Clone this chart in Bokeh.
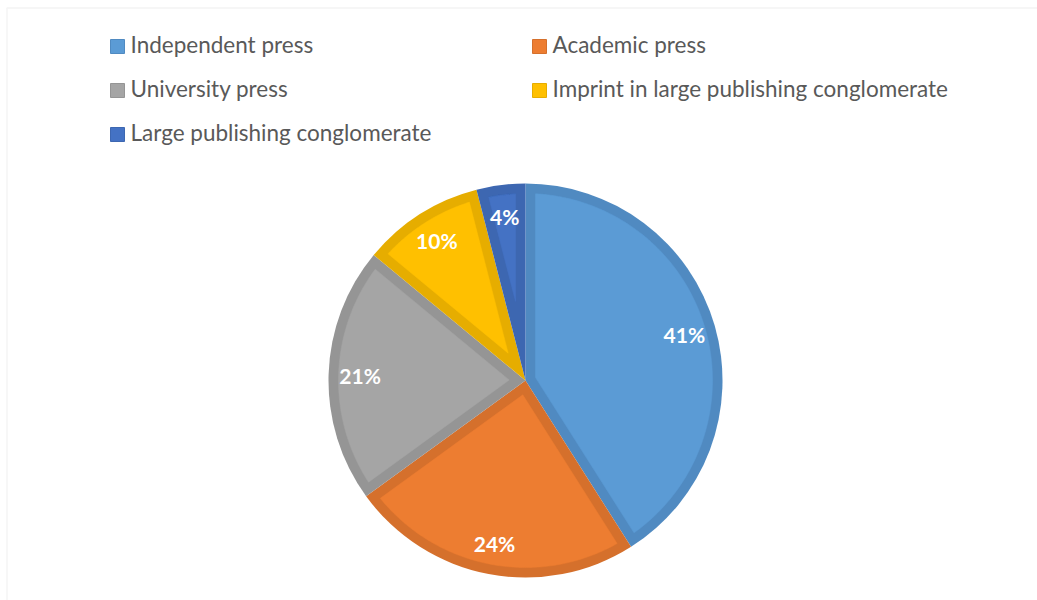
import math
import numpy as np
from bokeh.plotting import figure
from bokeh.models import Range1d, ColumnDataSource, BoxAnnotation
from bokeh.core.properties import value
from bokeh.embed import file_html
from bokeh.resources import INLINE

# ---- data ----
categories = ["Independent press", "Academic press", "University press",
              "Imprint in large publishing conglomerate", "Large publishing conglomerate"]
shares = [41, 24, 21, 10, 4]
share_labels = ["41%", "24%", "21%", "10%", "4%"]
fill_colors = ["#5B9BD5", "#ED7D31", "#A5A5A5", "#FFC000", "#4472C4"]
edge_colors = ["#508AC1", "#D5702C", "#959595", "#E6AD00", "#3D67B1"]

# ---- layout (pixels) ----
W, H = 1037, 600
CX, CY, R = 525, H - 380, 197
INSET = 10
LABEL_R = 0.84
LEG_X0, LEG_DX, LEG_Y0, LEG_DY, MARK = 110, 422, 46, 44, 14
TEXT_DY = 2

total = float(sum(shares))
cum = np.cumsum([0] + shares) / total * 2 * np.pi
start = np.pi / 2 - cum[:-1]
end = np.pi / 2 - cum[1:]
mid = (start + end) / 2

# inner (lighter) polygons inset from each slice edge
xs, ys = [], []
phi = math.asin(INSET / (R - INSET))
for s, e in zip(start, end):
    span = s - e
    m = (s + e) / 2
    apex = INSET / math.sin(span / 2)
    arc = np.linspace(s - phi, e + phi, 120)
    xs.append([CX + apex * math.cos(m)] + list(CX + (R - INSET) * np.cos(arc)))
    ys.append([CY + apex * math.sin(m)] + list(CY + (R - INSET) * np.sin(arc)))

src = ColumnDataSource(dict(
    cat=categories, start=start, end=end, fill=fill_colors, edge=edge_colors,
    xs=xs, ys=ys, lab=share_labels,
    lx=CX + LABEL_R * R * np.cos(mid), ly=CY + LABEL_R * R * np.sin(mid),
))

p = figure(width=W, height=H, x_range=Range1d(0, W), y_range=Range1d(0, H),
           output_backend="svg", toolbar_location=None, min_border=0,
           x_axis_location=None, y_axis_location=None)
p.grid.visible = False
p.outline_line_color = None
p.background_fill_color = "white"
p.border_fill_color = "white"

# outer dark wedges
p.wedge(x=CX, y=CY, radius=R, start_angle="start", end_angle="end", direction="clock",
        fill_color="edge", line_color=None, source=src)
# inner light fill
p.patches(xs="xs", ys="ys", fill_color="fill", line_color="fill", line_width=0.5, source=src)

# data labels
p.text(x="lx", y="ly", text="lab", source=src, text_color="white",
       text_font=value("Lato"), text_font_style="bold", text_font_size="21px",
       text_align="center", text_baseline="middle")

# legend (two columns, row-major)
idx = np.arange(len(categories))
leg = ColumnDataSource(dict(
    mx=LEG_X0 + MARK / 2 + (idx % 2) * LEG_DX,
    my=H - (LEG_Y0 + (idx // 2) * LEG_DY),
    ty=H - (LEG_Y0 - TEXT_DY + (idx // 2) * LEG_DY),
    tx=LEG_X0 + MARK + 6 + (idx % 2) * LEG_DX,
    cat=categories, fill=fill_colors, edge=edge_colors,
))
p.rect(x="mx", y="my", width=MARK, height=MARK, fill_color="fill", line_color="edge",
       line_width=1, source=leg)
p.text(x="tx", y="ty", text="cat", source=leg, text_color="#595959",
       text_font=value("Lato"), text_font_size="22.5px", text_baseline="middle")

# chart-area frame (top and left edges visible)
p.add_layout(BoxAnnotation(left=6.5, right=W + 50, bottom=-50, top=H - 7.5,
                           fill_alpha=0, line_color="#d9d9d9", line_width=1.5))

open("out.html", "w").write(file_html(p, INLINE))
